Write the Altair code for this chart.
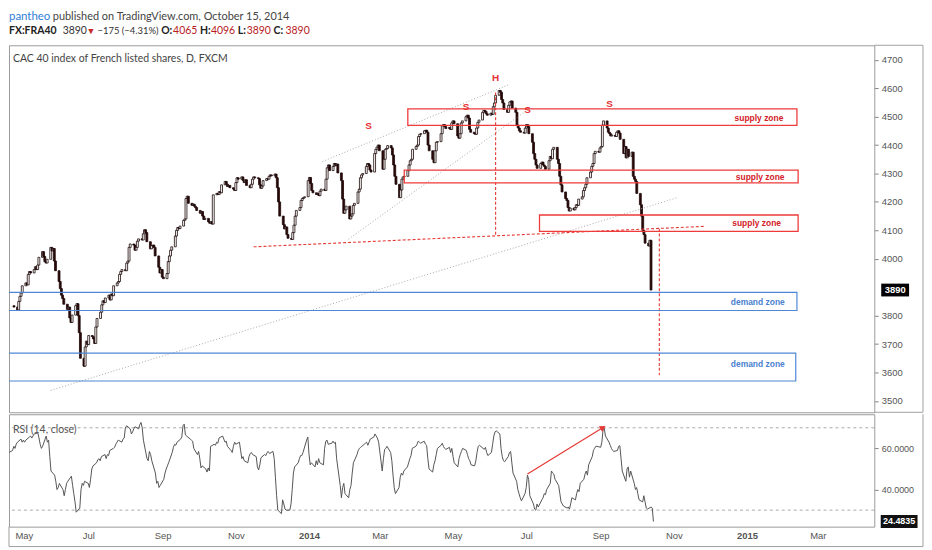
import altair as alt
import pandas as pd

# ---------------- data ----------------
CLOSE = [
    3830, 3820, 3850, 3868, 3880, 3905, 3915, 3908, 3945, 3955,
    3950, 3962, 3972, 3962, 3978, 4005, 4025, 4008, 3990, 3985,
    3998, 4040, 4028, 4036, 3992, 3958, 3920, 3895, 3872, 3860,
    3840, 3822, 3830, 3792, 3776, 3802, 3835, 3842, 3800, 3740,
    3650, 3622, 3690, 3710, 3698, 3730, 3726, 3718, 3702, 3760,
    3790, 3812, 3838, 3852, 3846, 3862, 3872, 3855, 3876, 3870,
    3905, 3915, 3920, 3945, 3955, 3962, 3958, 3985, 3992, 4040,
    4052, 4048, 4030, 4040, 4062, 4070, 4066, 4088, 4102, 4092,
    4060, 4035, 4046, 4048, 4040, 4010, 3970, 3950, 3962, 3935,
    3930, 3948, 3990, 4010, 4030, 4042, 4080, 4100, 4110, 4106,
    4115, 4135, 4140, 4212, 4220, 4195, 4188, 4192, 4185, 4180,
    4170, 4160, 4166, 4150, 4138, 4142, 4130, 4125, 4130, 4122,
    4225, 4230, 4226, 4236, 4232, 4260, 4272, 4262, 4254, 4258,
    4250, 4245, 4240, 4268, 4285, 4280, 4288, 4276, 4268, 4278,
    4258, 4250, 4262, 4280, 4288, 4285, 4282, 4260, 4248, 4256,
    4275, 4282, 4280, 4290, 4295, 4292, 4298, 4285, 4250, 4200,
    4150, 4120, 4105, 4112, 4085, 4072, 4068, 4092, 4118, 4150,
    4170, 4180, 4205, 4212, 4215, 4218, 4275, 4286, 4265, 4240,
    4232, 4226, 4230, 4222, 4238, 4245, 4240, 4280, 4320, 4330,
    4310, 4325, 4335, 4328, 4333, 4302, 4275, 4210, 4160, 4172,
    4185, 4140, 4150, 4158, 4188, 4195, 4235, 4245, 4285, 4295,
    4300, 4325, 4335, 4330, 4312, 4305, 4370, 4385, 4393, 4400,
    4380, 4315, 4350, 4385, 4388, 4398, 4390, 4365, 4330, 4290,
    4262, 4215, 4242, 4280, 4288, 4290, 4310, 4330, 4345, 4350,
    4385, 4395, 4400, 4430, 4438, 4440, 4450, 4452, 4445, 4400,
    4380, 4350, 4338, 4380, 4410, 4412, 4440, 4468, 4472, 4465,
    4458, 4462, 4455, 4478, 4485, 4475, 4432, 4424, 4440, 4478,
    4485, 4500, 4505, 4495, 4455, 4445, 4440, 4438, 4460, 4480,
    4488, 4515, 4522, 4518, 4510, 4505, 4512, 4508, 4535, 4548,
    4575, 4592, 4586, 4560, 4548, 4525, 4515, 4540, 4552, 4555,
    4530, 4515, 4470, 4460, 4450, 4445, 4442, 4460, 4472, 4465,
    4440, 4410, 4370, 4350, 4330, 4318, 4335, 4340, 4330, 4325,
    4315, 4345, 4360, 4352, 4385, 4392, 4350, 4335, 4290, 4260,
    4235, 4212, 4205, 4180, 4168, 4178, 4172, 4180, 4190, 4188,
    4210, 4218, 4240, 4250, 4262, 4285, 4305, 4325, 4335, 4370,
    4378, 4375, 4390, 4395, 4470, 4485, 4460, 4445, 4440, 4432,
    4435, 4430, 4445, 4450, 4442, 4420, 4370, 4395, 4355, 4385,
    4360, 4375, 4290, 4280, 4272, 4230, 4190, 4150, 4100, 4085,
    4055, 4045, 4065, 3890,
]
RSI = [
    58, 59, 61, 60, 62, 63, 64.5, 63, 64, 63,
    64, 65.5, 66, 65, 66, 67, 67.5, 65, 62, 60,
    61, 66, 63, 64, 56, 49, 47, 44, 40, 41,
    43, 40, 37, 40, 43, 44, 46.5, 42, 38, 34,
    29, 31, 40, 43, 42, 44, 43, 41, 45, 50,
    51.5, 53, 54.5, 55, 54, 56, 57, 55, 57, 56.5,
    59, 60, 60.5, 62, 63, 64, 63, 64.5, 65, 70,
    71, 69.5, 67, 68, 69.5, 70.5, 69.5, 71.5, 72.6, 70,
    64, 55, 54, 58.5, 57, 54, 48, 43, 44, 41,
    42, 45, 48, 50, 51.5, 53, 58, 60.5, 62, 61.5,
    63, 64.5, 65.5, 71, 71.8, 66.5, 65, 64.5, 64, 63.5,
    60, 57, 58.5, 55, 50.5, 51.5, 50, 48.5, 50.5, 49,
    61, 62, 61.5, 63, 62.5, 65, 66, 64.5, 63, 63.5,
    61, 59, 58, 61, 63, 62, 63, 59, 55, 56,
    54, 53, 56, 57.5, 58, 57, 56, 51, 49.5, 52,
    55.5, 57, 56.5, 58, 58.5, 57.5, 58.5, 55, 46, 37,
    30, 28.3, 35, 33, 30.5, 30, 30, 33, 40, 48,
    51, 53, 55, 56.5, 56.5, 58, 64, 65.5, 57, 52,
    53, 51, 54, 52, 55, 53, 52, 60, 63.5, 64,
    62, 62.5, 63.5, 62.5, 63, 55, 42, 36, 41, 43,
    38, 36, 40, 42, 48, 53, 57, 59, 60, 60.5,
    61, 62.5, 63, 61.5, 63, 64.5, 65.5, 67, 66, 65,
    63, 49, 55, 59.5, 60, 61, 58, 54, 47, 41,
    38, 41, 46, 48, 47, 49, 51, 53, 55, 56.5,
    60, 61, 62, 63.5, 63, 62.5, 63.5, 62, 61.5, 55,
    50, 48.5, 52, 54, 57, 60, 61.5, 62.5, 61, 60,
    59.5, 60.5, 58, 60, 56, 53, 51, 55, 57, 58.5,
    60, 59, 57, 55, 54, 52, 51.5, 54, 58, 61,
    61.5, 60, 59.5, 60.5, 58, 56.5, 58, 62, 66, 68,
    68.5, 67, 60, 56, 54, 53.5, 56, 58, 58.5, 53,
    48, 44, 40, 38, 36, 34.5, 38, 41, 47, 45,
    37, 33, 30.5, 30, 33, 31.5, 35, 36, 38, 37.5,
    40, 43, 49, 48, 47.5, 45, 42, 38, 34, 33,
    32, 31, 31.5, 30.5, 33, 36, 35, 38, 40, 39,
    43, 45, 47.5, 49, 47, 52, 56, 59, 60, 61,
    61, 60.5, 63, 69, 69.8, 66, 63, 61.5, 60, 59,
    58.5, 59, 61, 61.3, 55, 49, 44, 50, 51, 46,
    49, 43, 40, 41, 38, 35, 34, 37, 34, 31,
    30.5, 31.5, 31, 24.4835,
]
FIRST_OPEN = 3835
LAST_DATE = "2014-10-15"
LAST_PRICE = 3890
LAST_RSI = 24.4835

SUPPLY_START = ["2014-03-24", "2014-03-21", "2014-07-13"]
SUPPLY_END = ["2015-02-15", "2015-02-16", "2015-02-16"]
SUPPLY_LOW = [4469, 4267, 4096]
SUPPLY_HIGH = [4527, 4312, 4154]
SUPPLY_LABEL_DATE = ["2015-01-14", "2015-01-15", "2015-01-12"]
SUPPLY_LABEL_PRICE = [4495, 4288, 4126]

DEMAND_START = ["2013-04-10", "2013-04-10"]
DEMAND_END = ["2015-02-15", "2015-02-14"]
DEMAND_LOW = [3818, 3570]
DEMAND_HIGH = [3882, 3668]
DEMAND_LABEL_DATE = ["2015-01-13", "2015-01-13"]
DEMAND_LABEL_PRICE = [3849, 3628]

LETTERS = ["S", "S", "H", "S", "S"]
LETTER_DATES = ["2014-02-19", "2014-05-12", "2014-06-06", "2014-07-03", "2014-09-10"]
LETTER_PRICES = [4468, 4535, 4636, 4522, 4543]

RED_ID = ["neck", "neck", "hv", "hv", "proj", "proj"]
RED_DATES = ["2013-11-14", "2014-11-29", "2014-06-06", "2014-06-06", "2014-10-22", "2014-10-22"]
RED_PRICES = [4042, 4114, 4585, 4082, 4106, 3590]

GRAY_ID = ["trend", "trend", "upper", "upper", "lower", "lower"]
GRAY_DATES = ["2013-05-27", "2014-11-07", "2014-01-11", "2014-06-18", "2014-02-02", "2014-07-05"]
GRAY_PRICES = [3537, 4216, 4342, 4614, 4069, 4530]

ARROW_DATES = ["2014-07-02", "2014-09-03"]
ARROW_RSI = [47.6, 70.1]
RSI_LEVELS = [70, 30]

PRICE_TICKS = [3500, 3600, 3700, 3800, 4000, 4100, 4200, 4300, 4400, 4500, 4600, 4700]
RSI_TICKS = [40, 60]
MONTH_TICKS = ["2013-05-01", "2013-07-01", "2013-09-01", "2013-11-01", "2014-01-01",
               "2014-03-01", "2014-05-01", "2014-07-01", "2014-09-01", "2014-11-01",
               "2015-01-01", "2015-03-01"]

TITLE = "CAC 40 index of French listed shares, D, FXCM"
RSI_TITLE = "RSI (14, close)"

# ---------------- tables ----------------
dates = pd.bdate_range(end=LAST_DATE, periods=len(CLOSE))
df = pd.DataFrame({
    "date": dates,
    "open": [FIRST_OPEN] + CLOSE[:-1],
    "close": CLOSE,
    "rsi": RSI,
})


def dt(s):
    y, m, d = map(int, s.split("-"))
    return alt.DateTime(year=y, month=m, date=d)


W = 870
H_MAIN = 369
H_RSI = 113
FRAME_R = 919     # outer right frame line (pixels)
FRAME_B = 133     # outer bottom frame line below the RSI panel (pixels)
FRAME_COLOR = "#a0a0a0"

X_SCALE = alt.Scale(domain=[dt("2013-04-26"), dt("2015-04-17")])
Y_SCALE = alt.Scale(domain=[3460, 4751], nice=False, zero=False)
R_SCALE = alt.Scale(domain=[21.98, 76.57], nice=False, zero=False)

one = pd.DataFrame({"k": [0]})

price_axis = alt.Axis(orient="right", values=PRICE_TICKS, format="d", title=None, grid=False,
                      domain=False, tickColor="#888", tickSize=4, labelColor="#555",
                      labelFont="Liberation Sans", labelFontSize=9.5, labelPadding=3)
x_axis = alt.Axis(values=[dt(s) for s in MONTH_TICKS], title=None, grid=False, domain=False,
                  ticks=False, labelColor="#555", labelFont="Liberation Sans",
                  labelFontSize=9.5, labelPadding=4, labelFlush=False, labelOverlap=False,
                  labelExpr="month(datum.value) == 0 ? timeFormat(datum.value, '%Y') : timeFormat(datum.value, '%b')",
                  labelAlign=alt.condition("year(datum.value) == 2013 && month(datum.value) == 4",
                                           alt.value("left"), alt.value("center")),
                  labelFontWeight=alt.condition("month(datum.value) == 0", alt.value("bold"),
                                                alt.value("normal")))
rsi_axis = alt.Axis(orient="right", values=RSI_TICKS, format=".4f", title=None, grid=False,
                    domain=False, tickColor="#888", tickSize=4, labelColor="#555",
                    labelFont="Liberation Sans", labelFontSize=9, labelPadding=3)

XM = lambda f="date": alt.X(f"{f}:T", scale=X_SCALE, axis=None)
YM = lambda f="price": alt.Y(f"{f}:Q", scale=Y_SCALE, axis=price_axis)
XR = lambda f="date": alt.X(f"{f}:T", scale=X_SCALE, axis=x_axis)
YR = lambda f="rsi": alt.Y(f"{f}:Q", scale=R_SCALE, axis=rsi_axis)


def frame(x, x2, y, y2):
    return alt.Chart(one).mark_rule(color=FRAME_COLOR, strokeWidth=1).encode(
        x=alt.value(x), x2=alt.value(x2), y=alt.value(y), y2=alt.value(y2))


# ---------------- header ----------------
def htext(txt, x, y, color="#444", weight="normal", size=10.5):
    return alt.Chart(one).mark_text(
        align="left", baseline="middle", font="Lato", fontSize=size,
        fontWeight=weight, color=color,
    ).encode(x=alt.value(x), y=alt.value(y), text=alt.value(txt))

header = alt.layer(
    htext("pantheo", 0, 7, "#2f7ed8", size=11.5),
    htext("published on TradingView.com, October 15, 2014", 44, 7, "#444", size=11),
    htext("FX:FRA40", 0, 21, "#222", "bold", size=10.5),
    htext("3890", 54, 21, "#333"),
    htext("\u25BC", 78, 21, "#c62828", size=9),
    htext("\u2212175 (\u22124.31%)", 89, 21, "#333", size=9.5),
    htext("O:", 153, 21, "#222", "bold"),
    htext("4065", 165, 21, "#b71c1c"),
    htext("H:", 192, 21, "#222", "bold"),
    htext("4096", 203, 21, "#b71c1c"),
    htext("L:", 230, 21, "#222", "bold"),
    htext("3890", 239, 21, "#b71c1c"),
    htext("C:", 266, 21, "#222", "bold"),
    htext("3890", 278, 21, "#b71c1c"),
).properties(width=W, height=33, view=alt.ViewBackground(stroke="transparent"))

# ---------------- main price panel ----------------
candles = alt.Chart(df).mark_bar(size=1.9, strokeWidth=0.8, clip=True).encode(
    x=XM(),
    y=YM("open"),
    y2="close:Q",
    fill=alt.condition("datum.close >= datum.open", alt.value("#ffffff"), alt.value("#2e0808")),
    stroke=alt.value("#1a0606"),
)

supply_df = pd.DataFrame({
    "start": pd.to_datetime(SUPPLY_START), "end": pd.to_datetime(SUPPLY_END),
    "lo": SUPPLY_LOW, "hi": SUPPLY_HIGH,
})
demand_df = pd.DataFrame({
    "start": pd.to_datetime(DEMAND_START), "end": pd.to_datetime(DEMAND_END),
    "lo": DEMAND_LOW, "hi": DEMAND_HIGH,
})
supply = alt.Chart(supply_df).mark_rect(fill="white", fillOpacity=0, stroke="#ee3b3b",
                                         strokeWidth=1.3, clip=True).encode(
    x=XM("start"), x2="end:T", y=YM("lo"), y2="hi:Q")
demand = alt.Chart(demand_df).mark_rect(fill="white", fillOpacity=0, stroke="#4f87d6",
                                         strokeWidth=1.2, clip=True).encode(
    x=XM("start"), x2="end:T", y=YM("lo"), y2="hi:Q")

sl_df = pd.DataFrame({"date": pd.to_datetime(SUPPLY_LABEL_DATE), "price": SUPPLY_LABEL_PRICE,
                      "t": ["supply zone"] * len(SUPPLY_LABEL_DATE)})
dl_df = pd.DataFrame({"date": pd.to_datetime(DEMAND_LABEL_DATE), "price": DEMAND_LABEL_PRICE,
                      "t": ["demand zone"] * len(DEMAND_LABEL_DATE)})
supply_lbl = alt.Chart(sl_df).mark_text(font="Liberation Sans", fontSize=8.5, fontWeight="bold",
                                         color="#d32027").encode(x=XM(), y=YM(), text="t:N")
demand_lbl = alt.Chart(dl_df).mark_text(font="Liberation Sans", fontSize=8.5, fontWeight="bold",
                                         color="#4a7fcf").encode(x=XM(), y=YM(), text="t:N")

red_df = pd.DataFrame({"id": RED_ID, "date": pd.to_datetime(RED_DATES), "price": RED_PRICES})
red_lines = alt.Chart(red_df).mark_line(color="#e53935", strokeDash=[3, 2], strokeWidth=1.1,
                                         clip=True).encode(x=XM(), y=YM(), detail="id:N")

gray_df = pd.DataFrame({"id": GRAY_ID, "date": pd.to_datetime(GRAY_DATES), "price": GRAY_PRICES})
gray_lines = alt.Chart(gray_df).mark_line(color="#a8a8a8", strokeDash=[1, 2], strokeWidth=1,
                                           clip=True).encode(x=XM(), y=YM(), detail="id:N")

let_df = pd.DataFrame({"date": pd.to_datetime(LETTER_DATES), "price": LETTER_PRICES, "t": LETTERS})
letters = alt.Chart(let_df).mark_text(font="Liberation Sans", fontSize=10, fontWeight="bold",
                                       color="#e53030").encode(x=XM(), y=YM(), text="t:N")

title = alt.Chart(one).mark_text(align="left", baseline="middle", font="Lato", fontSize=10.5,
                                  color="#444").encode(
    x=alt.value(4), y=alt.value(14), text=alt.value(TITLE))

last_df = pd.DataFrame({"price": [LAST_PRICE], "t": [str(LAST_PRICE)]})
last_box = alt.Chart(last_df).mark_point(
    shape="M-1,-0.46L1,-0.46L1,0.46L-1,0.46Z", size=784, filled=True, color="#000",
    opacity=1).encode(x=alt.value(891), y=YM())
last_txt = alt.Chart(last_df).mark_text(font="Liberation Sans", fontSize=9.5, fontWeight="bold",
                                         color="white").encode(
    x=alt.value(891), y=YM(), text="t:N")

main = alt.layer(
    candles, gray_lines, red_lines, supply, demand, supply_lbl, demand_lbl,
    letters, title, last_box, last_txt,
    frame(FRAME_R, FRAME_R, 0, H_MAIN), frame(W, FRAME_R, 0, 0), frame(W, FRAME_R, H_MAIN, H_MAIN),
).properties(width=W, height=H_MAIN)

# ---------------- RSI panel ----------------
lvl_df = pd.DataFrame({"lvl": RSI_LEVELS})
levels = alt.Chart(lvl_df).mark_rule(color="#aaaaaa", strokeDash=[3, 3], strokeWidth=1).encode(
    y=YR("lvl"))

rsi_line = alt.Chart(df).mark_line(color="#555555", strokeWidth=1, clip=True).encode(
    x=XR(), y=YR())

arr_df = pd.DataFrame({"date": pd.to_datetime(ARROW_DATES), "rsi": ARROW_RSI})
arrow = alt.Chart(arr_df).mark_line(color="#e53935", strokeWidth=1.2).encode(x=XR(), y=YR())
arrow_head = alt.Chart(arr_df.tail(1)).mark_point(shape="triangle-right", filled=True, size=45,
                                                   angle=329, color="#e53935", opacity=1).encode(
    x=XR(), y=YR())

rsi_title = alt.Chart(one).mark_text(align="left", baseline="middle", font="Lato", fontSize=10.5,
                                      color="#555").encode(
    x=alt.value(4), y=alt.value(16), text=alt.value(RSI_TITLE))

rl_df = pd.DataFrame({"rsi": [LAST_RSI], "t": [f"{LAST_RSI:.4f}"]})
rsi_box = alt.Chart(rl_df).mark_point(
    shape="M-1,-0.35L1,-0.35L1,0.35L-1,0.35Z", size=1369, filled=True, color="#111",
    opacity=1).encode(x=alt.value(895), y=YR())
rsi_txt = alt.Chart(rl_df).mark_text(font="Liberation Sans", fontSize=9, fontWeight="bold",
                                      color="white").encode(
    x=alt.value(895), y=YR(), text="t:N")

rsi = alt.layer(
    levels, rsi_line, arrow, arrow_head, rsi_title, rsi_box, rsi_txt,
    frame(FRAME_R, FRAME_R, 0, FRAME_B), frame(0, FRAME_R, FRAME_B, FRAME_B),
    frame(0, 0, H_RSI, FRAME_B),
).properties(width=W, height=H_RSI)

chart = alt.vconcat(header, main, rsi, spacing=0).properties(
    padding={"left": 0, "top": 0, "right": 0, "bottom": 0},
    background="white",
).configure_view(stroke="#9a9a9a", strokeWidth=1)

chart.save("out.html", embed_options={"renderer": "svg", "actions": False})
